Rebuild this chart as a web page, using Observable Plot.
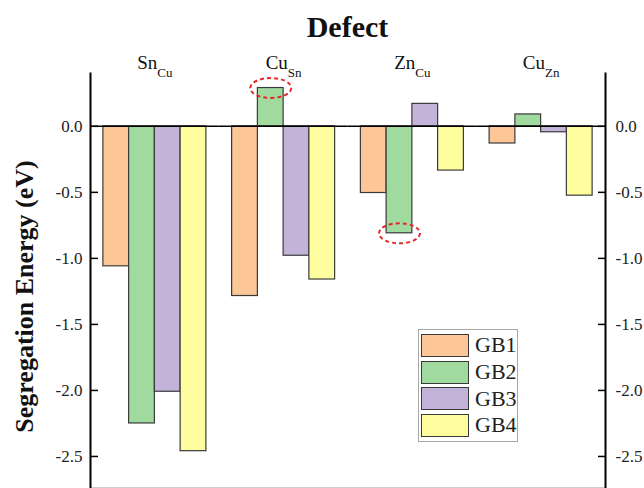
<!DOCTYPE html>
<html>
<head>
<meta charset="utf-8">
<script src="https://cdn.jsdelivr.net/npm/d3@7"></script>
<script src="https://cdn.jsdelivr.net/npm/@observablehq/plot@0.6"></script>
<style>
  html, body { margin: 0; padding: 0; background: #fff; }
  #wrap { position: relative; width: 644px; height: 488px; overflow: hidden; font-family: "Liberation Serif", "Times New Roman", serif; }
  #title { box-sizing: border-box; height: 40px; padding-top: 12px; padding-left: 51px; line-height: 30px; font-size: 30px; font-weight: bold; text-align: center; color: #111; }
  #legend { position: absolute; left: 418px; top: 329px; width: 100px; box-sizing: border-box; border: 1px solid #a8a8a8; background: #fff; padding: 2px 0 2px 2px; }
  .row { display: flex; align-items: center; height: 26.7px; }
  .sw { width: 46px; height: 21px; border: 1.5px solid #3a3a3a; }
  .lab { margin-left: 6px; font-size: 22px; color: #222; line-height: 22px; }
</style>
</head>
<body>
<div id="wrap">
  <div id="title">Defect</div>
  <div id="chart"></div>
  <div id="legend"></div>
</div>
<script>
// ---- data ----
const categories = ["SnCu", "CuSn", "ZnCu", "CuZn"];
const defectBase = ["Sn", "Cu", "Zn", "Cu"];
const defectSub  = ["Cu", "Sn", "Cu", "Zn"];
const series = ["GB1", "GB2", "GB3", "GB4"];
const gb1 = [-1.06, -1.285, -0.505, -0.13];
const gb2 = [-2.25, 0.29, -0.81, 0.09];
const gb3 = [-2.01, -0.98, 0.17, -0.045];
const gb4 = [-2.46, -1.16, -0.335, -0.525];
const colors = ["#FDC697", "#A1DA9F", "#C3B3D9", "#FEFE9F"];
const yTicks = [0, -0.5, -1.0, -1.5, -2.0, -2.5];
const highlightCats = ["CuSn", "ZnCu"];
const highlightSeries = ["GB2", "GB2"];
const yLabel = "Segregation Energy (eV)";

// ---- table ----
const seriesValues = [gb1, gb2, gb3, gb4];
const rows = categories.flatMap((c, i) => series.map((s, j) => ({cat: c, gb: s, value: seriesValues[j][i]})));
const hl = rows.filter(r => highlightCats.some((c, k) => c === r.cat && highlightSeries[k] === r.gb));

const ellipse = {
  draw(ctx, size) {
    const r = Math.sqrt(size / Math.PI), rx = r * 2.05, ry = r, k = 0.5523;
    ctx.moveTo(rx, 0);
    ctx.bezierCurveTo(rx, ry * k, rx * k, ry, 0, ry);
    ctx.bezierCurveTo(-rx * k, ry, -rx, ry * k, -rx, 0);
    ctx.bezierCurveTo(-rx, -ry * k, -rx * k, -ry, 0, -ry);
    ctx.bezierCurveTo(rx * k, -ry, rx, -ry * k, rx, 0);
    ctx.closePath();
  }
};

const fmt = d => d.toFixed(1);

const chart = Plot.plot({
  width: 644,
  height: 448,
  marginTop: 33,
  marginBottom: 1,
  marginLeft: 90,
  marginRight: 39,
  style: {fontFamily: "Liberation Serif, Times New Roman, serif", background: "white"},
  fx: {domain: categories, padding: 0, round: false, axis: null},
  x: {domain: series, paddingInner: 0, paddingOuter: 0.5, round: false, axis: null},
  y: {domain: [-2.735, 0.4], axis: null},
  color: {domain: series, range: colors},
  marks: [
    Plot.frame({anchor: "bottom", stroke: "#cccccc"}),
    Plot.barY(rows, {fx: "cat", x: "gb", y: "value", fill: "gb", stroke: "#3a3a3a", strokeWidth: 1.2}),
    Plot.ruleY([0], {stroke: "black", strokeWidth: 1.6}),
    Plot.dot(hl, {fx: "cat", x: "gb", y: "value", r: 10, symbol: ellipse, fill: "none", stroke: "#e8262a", strokeWidth: 2, strokeDasharray: "4,3"}),
    Plot.frame({anchor: "left", facetAnchor: "left", stroke: "black", strokeWidth: 2}),
    Plot.frame({anchor: "right", facetAnchor: "right", stroke: "black", strokeWidth: 2}),
    Plot.axisY({anchor: "left", ticks: yTicks, tickFormat: fmt, tickSize: -8, tickPadding: 16, fontSize: 17, stroke: "black", strokeWidth: 1.5, fill: "#222", label: null}),
    Plot.axisY({anchor: "right", ticks: yTicks, tickFormat: fmt, tickSize: -8, tickPadding: 18, fontSize: 17, stroke: "black", strokeWidth: 1.5, fill: "#222", label: null}),
    Plot.text([yLabel], {frameAnchor: "left", facetAnchor: "left", rotate: -90, textAnchor: "middle", lineAnchor: "middle", dx: -66, dy: 16, fontSize: 26, fontWeight: "bold", fill: "#111"}),
    Plot.text(categories, {fx: d => d, text: d => d, frameAnchor: "top", dy: -5, lineAnchor: "bottom", fontSize: 19, fill: "#111"})
  ]
});
document.getElementById("chart").appendChild(chart);

// subscripts for defect labels
d3.select(chart).selectAll("text").each(function() {
  const t = d3.select(this);
  const i = categories.indexOf(t.text());
  if (i < 0) return;
  t.text(null);
  t.append("tspan").text(defectBase[i]);
  t.append("tspan").attr("dy", 8).attr("font-size", 13).text(defectSub[i]);
});

// legend
const lg = d3.select("#legend");
series.forEach((s, j) => {
  const row = lg.append("div").attr("class", "row");
  row.append("div").attr("class", "sw").style("background", colors[j]);
  row.append("div").attr("class", "lab").text(s);
});
</script>
</body>
</html>
